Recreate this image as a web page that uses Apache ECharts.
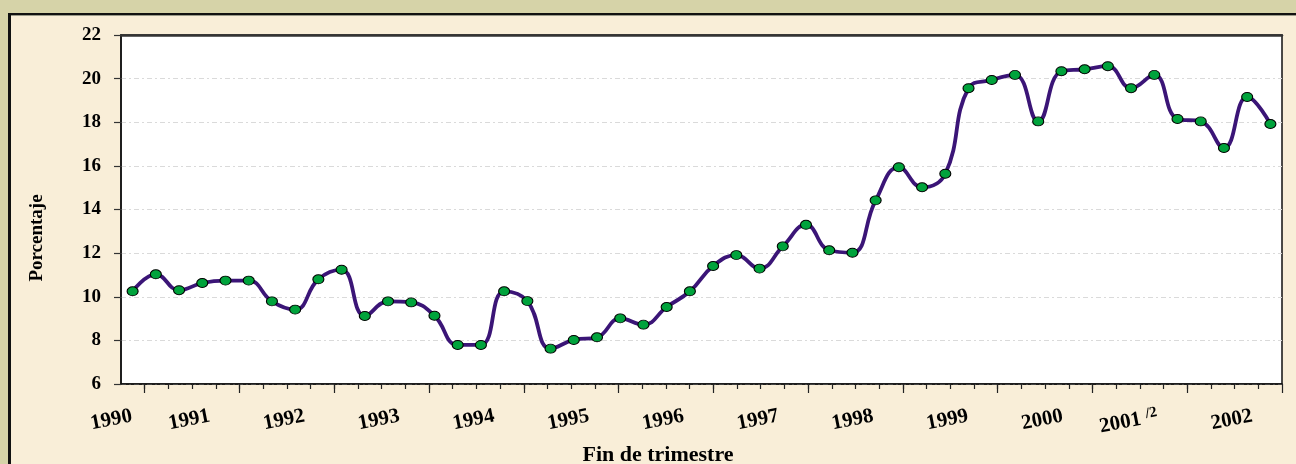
<!DOCTYPE html>
<html>
<head>
<meta charset="utf-8">
<script src="https://cdn.jsdelivr.net/npm/echarts@6/dist/echarts.min.js"></script>
<style>
html, body { margin: 0; padding: 0; background: #D6D3A8; overflow: hidden; }
#panel { position: absolute; left: 8px; top: 13px; width: 1300px; height: 460px;
  background: #F9EED8; border-top: 2px solid #111; border-left: 3px solid #111;
  box-shadow: inset 0 1px 0 #9a9a8a; }
#c { position: absolute; left: 0; top: 0; width: 1296px; height: 464px; }
</style>
</head>
<body>
<div id="panel"></div>
<div id="c"></div>
<script>
// ---- Data ----
const quarters = [
  '1990T1','1990T2','1990T3','1990T4','1991T1','1991T2','1991T3','1991T4',
  '1992T1','1992T2','1992T3','1992T4','1993T1','1993T2','1993T3','1993T4',
  '1994T1','1994T2','1994T3','1994T4','1995T1','1995T2','1995T3','1995T4',
  '1996T1','1996T2','1996T3','1996T4','1997T1','1997T2','1997T3','1997T4',
  '1998T1','1998T2','1998T3','1998T4','1999T1','1999T2','1999T3','1999T4',
  '2000T1','2000T2','2000T3','2000T4','2001T1','2001T2','2001T3','2001T4',
  '2002T1','2002T2'
];
const values = [
  10.25, 11.03, 10.30, 10.63, 10.74, 10.74, 9.79, 9.41, 10.80, 11.24,
  9.12, 9.79, 9.74, 9.13, 7.79, 7.79, 10.25, 9.80, 7.62, 8.02,
  8.14, 9.01, 8.72, 9.53, 10.25, 11.41, 11.91, 11.29, 12.31, 13.30,
  12.13, 12.02, 14.42, 15.94, 15.02, 15.64, 19.56, 19.94, 20.17, 18.04,
  20.34, 20.43, 20.57, 19.56, 20.17, 18.15, 18.04, 16.82, 19.16, 17.92
];
const yearLabels = ['1990','1991','1992','1993','1994','1995','1996','1997',
                    '1998','1999','2000','2001 /2','2002'];
const yMin = 6, yMax = 22, yStep = 2;
const yTitle = 'Porcentaje';
const xTitle = 'Fin de trimestre';

// ---- Chart ----
const font = '"Liberation Serif", "Times New Roman", serif';
const divisions = quarters.length - 1;          // tick scale: 0..divisions
const minorTicks = [];
for (let i = 1; i < divisions; i++) minorTicks.push(i);
const majorTicks = [];
for (let i = 1; i <= divisions; i += 4) majorTicks.push(i);
const labelPos = yearLabels.map((_, k) => (k === 0 ? 0.46 : 4 * k - 0.25));

function yearFormatter(v) {
  const k = labelPos.findIndex(p => Math.abs(p - v) < 1e-6);
  if (k < 0) return '';
  const lab = yearLabels[k];
  const idx = lab.indexOf(' /');
  if (idx >= 0) return lab.slice(0, idx) + ' {s|' + lab.slice(idx + 1) + '}';
  return lab;
}

const chart = echarts.init(document.getElementById('c'), null, { renderer: 'canvas' });
chart.setOption({
  backgroundColor: 'transparent',
  animation: false,
  grid: {
    left: 121, top: 35, right: 14, bottom: 80,
    show: true, backgroundColor: '#ffffff', borderColor: '#111', borderWidth: 1.5
  },
  xAxis: [
    {
      type: 'category', data: quarters, boundaryGap: true, position: 'bottom',
      axisLine: { show: false }, axisTick: { show: false }, axisLabel: { show: false },
      splitLine: { show: false }
    },
    {
      type: 'value', min: 0, max: divisions, position: 'bottom',
      axisLine: { show: true, onZero: false, lineStyle: { color: '#111', width: 1.5 } },
      axisTick: { show: true, customValues: minorTicks, length: 5, lineStyle: { color: '#222', width: 1.2 } },
      axisLabel: { show: false }, splitLine: { show: false }
    },
    {
      type: 'value', min: 0, max: divisions, position: 'bottom',
      axisLine: { show: false, onZero: false },
      axisTick: { show: true, customValues: majorTicks, length: 9, lineStyle: { color: '#222', width: 1.2 } },
      axisLabel: {
        show: true, customValues: labelPos, rotate: 11, margin: 32,
        formatter: yearFormatter, color: '#000', fontFamily: font, fontWeight: 'bold', fontSize: 21,
        rich: { s: { fontFamily: font, fontWeight: 'bold', fontSize: 15, color: '#000', padding: [0, 0, 8, 0] } }
      },
      splitLine: { show: false }
    },
    {
      type: 'value', min: 0, max: divisions, position: 'top',
      axisLine: { show: true, onZero: false, lineStyle: { color: '#333', width: 2.5 } },
      axisTick: { show: false }, axisLabel: { show: false }, splitLine: { show: false }
    }
  ],
  yAxis: {
    type: 'value', min: yMin, max: yMax, interval: yStep,
    axisLine: { show: true, onZero: false, lineStyle: { color: '#111', width: 1.5 } },
    axisTick: { show: true, inside: false, length: 7, lineStyle: { color: '#333', width: 1.2 } },
    axisLabel: { color: '#000', fontFamily: font, fontWeight: 'bold', fontSize: 19, margin: 20 },
    splitLine: { show: true, lineStyle: { color: '#dadada', width: 1, type: [5, 3, 2, 3] } }
  },
  graphic: [
    {
      type: 'text', z: 10, x: 37, y: 238, rotation: Math.PI / 2,
      style: { text: yTitle, font: 'bold 19px ' + font, fill: '#000', align: 'center', verticalAlign: 'middle' }
    },
    {
      type: 'text', z: 10, x: 658, y: 455,
      style: { text: xTitle, font: 'bold 22px ' + font, fill: '#000', align: 'center', verticalAlign: 'middle' }
    }
  ],
  series: [{
    type: 'line', xAxisIndex: 0, yAxisIndex: 0, data: values,
    smooth: 0.45,
    symbol: 'circle', symbolSize: [11, 9], showSymbol: true,
    lineStyle: { color: '#3B1577', width: 3.8 },
    itemStyle: { color: '#00A33C', borderColor: '#000', borderWidth: 1 },
    emphasis: { disabled: true }
  }]
});
</script>
</body>
</html>
